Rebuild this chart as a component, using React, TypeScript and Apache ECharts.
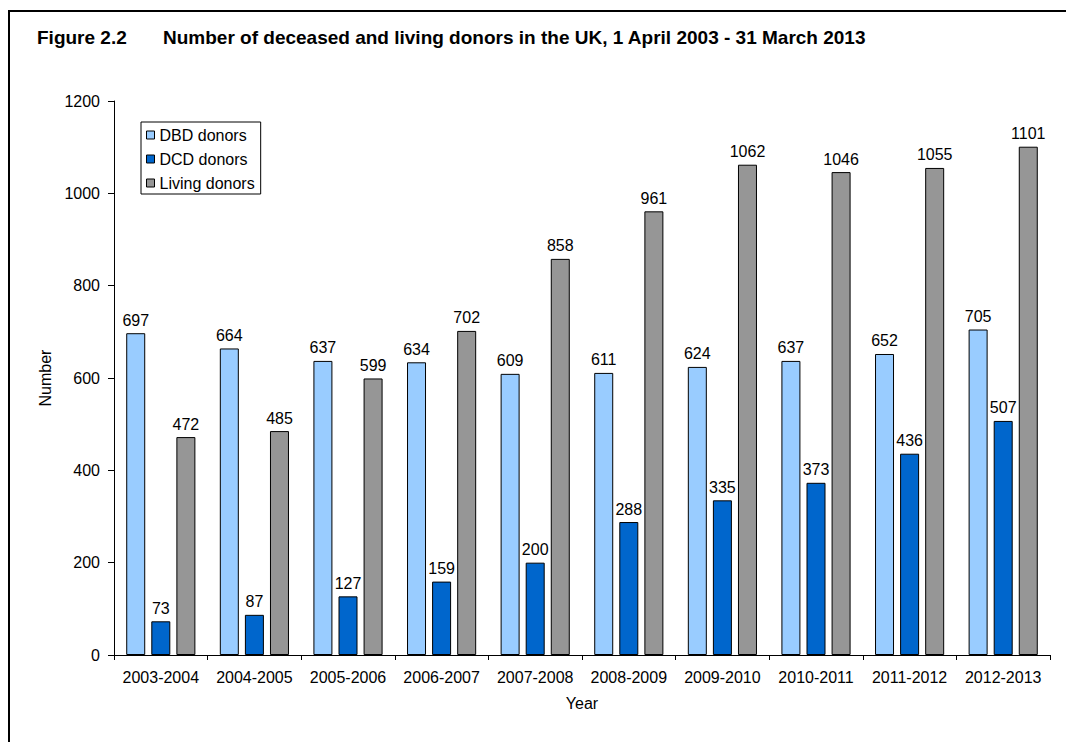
import React, { useEffect, useRef } from "react";
import * as echarts from "echarts";

const categories = [
  "2003-2004", "2004-2005", "2005-2006", "2006-2007", "2007-2008",
  "2008-2009", "2009-2010", "2010-2011", "2011-2012", "2012-2013",
];
const dbdDonors = [697, 664, 637, 634, 609, 611, 624, 637, 652, 705];
const dcdDonors = [73, 87, 127, 159, 200, 288, 335, 373, 436, 507];
const livingDonors = [472, 485, 599, 702, 858, 961, 1062, 1046, 1055, 1101];
const seriesNames = ["DBD donors", "DCD donors", "Living donors"];
const seriesColors = ["#99CCFF", "#0066CC", "#969696"];

const FONT = "Arial, 'Liberation Sans', sans-serif";

export default function App() {
  const ref = useRef<HTMLDivElement>(null);
  useEffect(() => {
    if (!ref.current) return;
    const chart = echarts.init(ref.current, null, { renderer: "svg" });
    const values = [dbdDonors, dcdDonors, livingDonors];
    chart.setOption({
      animation: false,
      backgroundColor: "#ffffff",
      textStyle: { fontFamily: FONT },
      graphic: [
        { type: "line", shape: { x1: 8, y1: 11, x2: 1066, y2: 11 }, style: { stroke: "#000", lineWidth: 2 } },
        { type: "line", shape: { x1: 9, y1: 10, x2: 9, y2: 742 }, style: { stroke: "#000", lineWidth: 2 } },
        {
          type: "text", left: 37, top: 28,
          style: { text: "Figure 2.2", font: `bold 19px ${FONT}`, fill: "#000" },
        },
        {
          type: "text", left: 163, top: 28,
          style: {
            text: "Number of deceased and living donors in the UK, 1 April 2003 - 31 March 2013",
            font: `bold 19px ${FONT}`, fill: "#000",
          },
        },
      ],
      legend: {
        orient: "vertical",
        left: 141,
        top: 122,
        data: seriesNames,
        icon: "rect",
        itemWidth: 8,
        itemHeight: 8,
        itemGap: 8,
        padding: [5, 6, 3, 5],
        borderColor: "#000",
        borderWidth: 1,
        textStyle: { fontSize: 16, color: "#000", fontFamily: FONT },
        itemStyle: { borderColor: "#000", borderWidth: 1 },
      },
      grid: { left: 114, right: 16, top: 101, bottom: 87, containLabel: false },
      xAxis: {
        type: "category",
        data: categories,
        name: "Year",
        nameLocation: "middle",
        nameGap: 40,
        nameTextStyle: { fontSize: 16, color: "#000", fontFamily: FONT },
        axisLine: { lineStyle: { color: "#000", width: 1 } },
        axisTick: { show: true, length: 5, lineStyle: { color: "#000" } },
        axisLabel: { fontSize: 16, color: "#000", margin: 14, interval: 0, fontFamily: FONT },
      },
      yAxis: {
        type: "value",
        min: 0,
        max: 1200,
        interval: 200,
        name: "Number",
        nameLocation: "middle",
        nameGap: 52,
        nameTextStyle: { fontSize: 16, color: "#000", fontFamily: FONT },
        axisLine: { show: true, lineStyle: { color: "#000", width: 1 } },
        axisTick: { show: true, length: 6, lineStyle: { color: "#000" } },
        axisLabel: {
          fontSize: 16, color: "#000", margin: 14, fontFamily: FONT,
          formatter: (v: number) => String(v),
        },
        splitLine: { show: false },
      },
      series: seriesNames.map((name, i) => ({
        name,
        type: "bar",
        data: values[i],
        barWidth: 19,
        barGap: "32%",
        itemStyle: { color: seriesColors[i], borderColor: "#000", borderWidth: 1 },
        label: {
          show: true,
          position: "top",
          distance: 5,
          fontSize: 16,
          color: "#000",
          fontFamily: FONT,
        },
      })),
    });
    return () => chart.dispose();
  }, []);
  return (
    <div
      ref={ref}
      style={{ position: "fixed", left: 0, top: 0, width: 1066, height: 742, background: "#fff" }}
    />
  );
}
